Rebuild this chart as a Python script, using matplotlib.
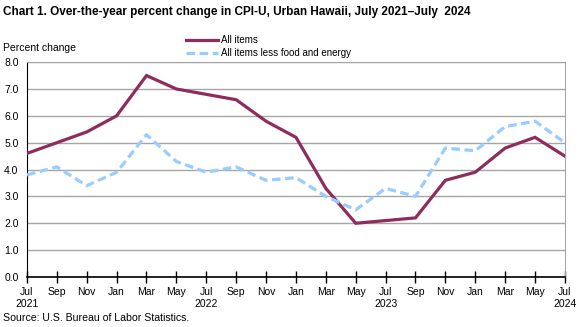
import matplotlib.pyplot as plt

plt.rcParams["font.family"] = ["Liberation Sans", "DejaVu Sans"]

# ---- data -------------------------------------------------------------
months = ["Jul", "Sep", "Nov", "Jan", "Mar", "May", "Jul", "Sep", "Nov", "Jan",
          "Mar", "May", "Jul", "Sep", "Nov", "Jan", "Mar", "May", "Jul"]
years = {0: "2021", 6: "2022", 12: "2023", 18: "2024"}

all_items = [4.6, 5.0, 5.4, 6.0, 7.5, 7.0, 6.8, 6.6, 5.8, 5.2,
             3.3, 2.0, 2.1, 2.2, 3.6, 3.9, 4.8, 5.2, 4.5]
core = [3.8, 4.1, 3.4, 3.9, 5.3, 4.3, 3.9, 4.1, 3.6, 3.7,
        3.0, 2.5, 3.3, 3.0, 4.8, 4.7, 5.6, 5.8, 5.0]

RED = "#8E2C5C"
BLUE = "#99CCFF"
GRID = "#A6A6A6"
DASH = (2.7, 1.4)

# ---- figure -----------------------------------------------------------
fig = plt.figure(figsize=(5.86, 3.27), dpi=100)
ax = fig.add_axes([0.046, 0.153, 0.918, 0.657])

x = list(range(len(months)))
ax.plot(x, all_items, color=RED, lw=2.3, solid_joinstyle="miter", zorder=3)
ax.plot(x, core, color=BLUE, lw=2.3, dashes=DASH, zorder=3)

ax.set_xlim(0, len(months) - 1)
ax.set_ylim(0, 8)
ax.set_yticks([i for i in range(9)])
ax.set_yticklabels([f"{i:.1f}" for i in range(9)], fontsize=7.5)
ax.tick_params(axis="y", length=0, pad=6)

labels = [m + ("\n" + years[i] if i in years else "") for i, m in enumerate(months)]
ax.set_xticks(x)
ax.set_xticklabels(labels, fontsize=7.5, linespacing=1.25)
ax.tick_params(axis="x", direction="inout", length=8, width=1, pad=3, color="black")

ax.grid(axis="y", color=GRID, lw=1)
ax.set_axisbelow(True)
for side in ["top", "right"]:
    ax.spines[side].set_color(GRID)
ax.spines["left"].set_color("black")
ax.spines["bottom"].set_color("black")
ax.spines["bottom"].set_linewidth(1.2)

# ---- text -------------------------------------------------------------
fig.text(0.005, 0.962, "Chart 1. Over-the-year percent change in CPI-U, Urban Hawaii, July 2021\u2013July  2024",
         fontsize=8.45, fontweight="bold", va="center")
fig.text(0.005, 0.853, "Percent change", fontsize=7.5, va="center")
fig.text(0.005, 0.028, "Source: U.S. Bureau of Labor Statistics.", fontsize=7.6, va="center")

# legend drawn by hand
fig.add_artist(plt.Line2D([0.318, 0.372], [0.878, 0.878], color=RED, lw=2.3, transform=fig.transFigure))
fig.add_artist(plt.Line2D([0.318, 0.372], [0.838, 0.838], color=BLUE, lw=2.3, dashes=DASH,
                          transform=fig.transFigure))
fig.text(0.377, 0.878, "All items", fontsize=7.0, va="center")
fig.text(0.377, 0.838, "All items less food and energy", fontsize=7.0, va="center")

fig.savefig("out.png", dpi=100)
